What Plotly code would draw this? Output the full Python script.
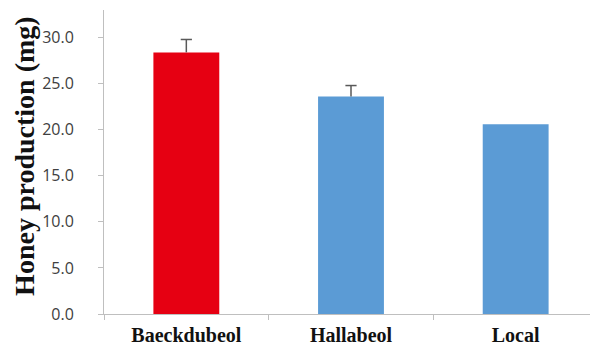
import plotly.graph_objects as go

categories = ["Baeckdubeol", "Hallabeol", "Local"]
values = [28.4, 23.6, 20.6]
errors = [1.4, 1.2, None]
colors = ["#E60012", "#5B9BD5", "#5B9BD5"]
y_ticks = [0, 5, 10, 15, 20, 25, 30]
y_title = "Honey production (mg)"

err_x = [c for c, e in zip(categories, errors) if e is not None]
err_base = [v for v, e in zip(values, errors) if e is not None]
err_v = [e for e in errors if e is not None]
err_top = [b + e for b, e in zip(err_base, err_v)]

fig = go.Figure()
fig.add_trace(go.Bar(
    x=categories, y=values, width=0.4,
    marker=dict(color=colors, line=dict(width=0)),
))
# upper-only error bars: stem from bar top, cap marker at the top
fig.add_trace(go.Scatter(
    x=err_x, y=err_top, mode="markers",
    marker=dict(symbol="line-ew", size=8, line=dict(color="#595959", width=1.5)),
    error_y=dict(type="data", symmetric=False, array=[0] * len(err_v), arrayminus=err_v,
                 color="#595959", thickness=1.5, width=0),
    hoverinfo="skip",
))

# body has an 8px default margin in the page, so offset the figure accordingly
fig.update_layout(
    width=590, height=339,
    margin=dict(l=96, r=0, t=2, b=33),
    paper_bgcolor="white", plot_bgcolor="white",
    showlegend=False,
    xaxis=dict(
        tickvals=categories, ticktext=[f"<b>{c}</b>" for c in categories],
        showline=True, linecolor="#BFBFBF", linewidth=1,
        ticks="outside", tickson="boundaries", ticklen=5, tickcolor="#BFBFBF",
        tickfont=dict(family="Liberation Serif", size=20, color="#111111"),
        ticklabelstandoff=3,
        showgrid=False, zeroline=False, automargin=False,
    ),
    yaxis=dict(
        range=[0, 33], tickvals=y_ticks, tickformat=".1f",
        showline=True, linecolor="#BFBFBF", linewidth=1,
        ticks="outside", ticklen=5, tickcolor="#BFBFBF",
        tickfont=dict(family="Open Sans", size=16, color="#404040"),
        ticklabelstandoff=21,
        showgrid=False, zeroline=False, automargin=False,
    ),
    annotations=[dict(
        text=f"<b>{y_title}</b>", textangle=-90,
        xref="paper", yref="paper", x=-0.160, y=0.52,
        xanchor="center", yanchor="middle", showarrow=False,
        font=dict(family="Liberation Serif", size=28, color="#111111"),
    )],
)

fig.write_html("out.html")
